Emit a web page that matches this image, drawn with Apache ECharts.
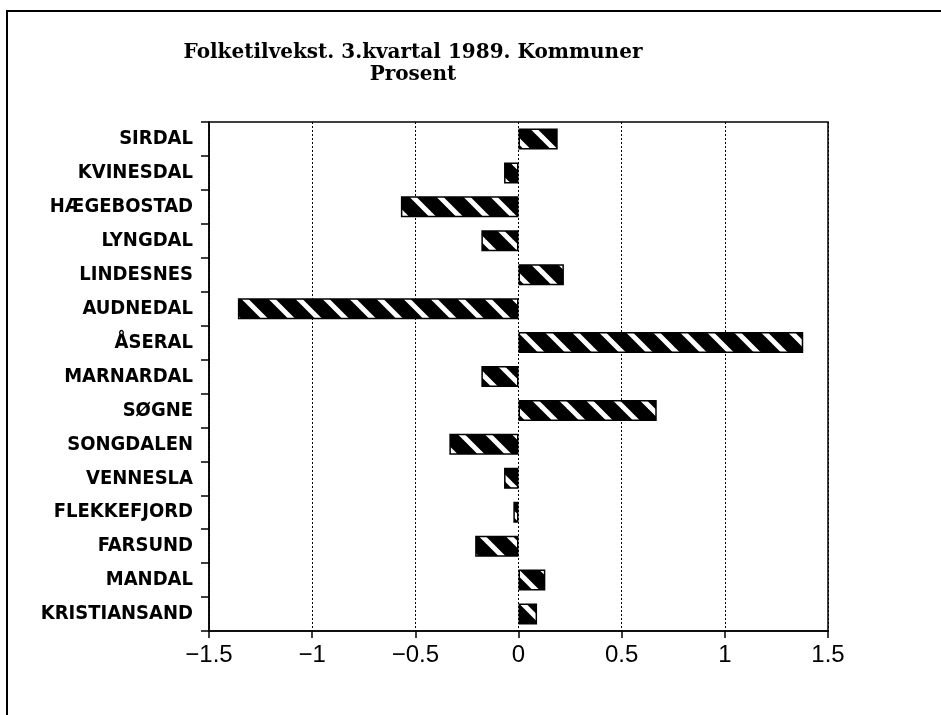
<!DOCTYPE html>
<html>
<head>
<meta charset="utf-8">
<style>
  html, body { margin: 0; padding: 0; background: #fff; }
  #chart { width: 941px; height: 715px; }
</style>
<script src="https://cdn.jsdelivr.net/npm/echarts@6/dist/echarts.min.js"></script>
</head>
<body>
<div id="chart"></div>
<script>
const categories = ['SIRDAL', 'KVINESDAL', 'HÆGEBOSTAD', 'LYNGDAL', 'LINDESNES', 'AUDNEDAL', 'ÅSERAL',
  'MARNARDAL', 'SØGNE', 'SONGDALEN', 'VENNESLA', 'FLEKKEFJORD', 'FARSUND', 'MANDAL', 'KRISTIANSAND'];
const values = [0.19, -0.07, -0.57, -0.18, 0.22, -1.36, 1.38, -0.18, 0.67, -0.335, -0.07, -0.025, -0.21, 0.13, 0.09];
const titleLines = ['Folketilvekst. 3.kvartal 1989. Kommuner', 'Prosent'];
const xMin = -1.5, xMax = 1.5, xStep = 0.5;

// hatch pattern: black with white "\" stripes
function makePattern() {
  const s = 27;
  const c = document.createElement('canvas');
  c.width = s; c.height = s;
  const g = c.getContext('2d');
  g.fillStyle = '#000';
  g.fillRect(0, 0, s, s);
  g.strokeStyle = '#fff';
  g.lineWidth = 5;
  for (let k = -1; k <= 1; k++) {
    g.beginPath();
    g.moveTo(k * s - 2, -2);
    g.lineTo(k * s + s + 2, s + 2);
    g.stroke();
  }
  return c;
}

const chart = echarts.init(document.getElementById('chart'));
chart.setOption({
  animation: false,
  backgroundColor: '#fff',
  title: {
    text: titleLines.join('\n'),
    left: 408,
    top: 37,
    textAlign: 'center',
    textStyle: {
      fontFamily: 'DejaVu Serif',
      fontSize: 20,
      fontWeight: 'bold',
      color: '#000',
      lineHeight: 22,
      align: 'center'
    }
  },
  graphic: [{
    type: 'polyline',
    shape: { points: [[7, 715], [7, 11], [941, 11]] },
    style: { stroke: '#000', lineWidth: 2, fill: null },
    silent: true
  }],
  grid: {
    left: 209, right: 941 - 828, top: 122, bottom: 715 - 631,
    show: true, borderColor: '#000', borderWidth: 1.5, containLabel: false
  },
  xAxis: {
    type: 'value',
    min: xMin, max: xMax, interval: xStep,
    axisLine: { show: true, onZero: false, lineStyle: { color: '#000', width: 1.5 } },
    axisTick: { show: true, length: 7, lineStyle: { color: '#000', width: 1.5 } },
    splitLine: { show: true, lineStyle: { color: '#000', type: [2, 2], width: 1 } },
    axisLabel: {
      color: '#000', fontFamily: 'Liberation Sans', fontSize: 24, margin: 12,
      formatter: v => String(v).replace('-', '\u2212')
    }
  },
  yAxis: {
    type: 'category',
    data: categories,
    inverse: true,
    axisLine: { show: true, onZero: false, lineStyle: { color: '#000', width: 1.5 } },
    axisTick: { show: true, length: 8, lineStyle: { color: '#000', width: 1.5 } },
    axisLabel: {
      color: '#000', fontFamily: "'DejaVu Sans Condensed', 'DejaVu Sans', sans-serif",
      fontWeight: 'bold', fontSize: 20, margin: 16
    }
  },
  series: [{
    type: 'bar',
    data: values,
    barWidth: 21,
    itemStyle: {
      color: { image: makePattern(), repeat: 'repeat' },
      borderColor: '#000',
      borderWidth: 1.5
    }
  }]
});
</script>
</body>
</html>
